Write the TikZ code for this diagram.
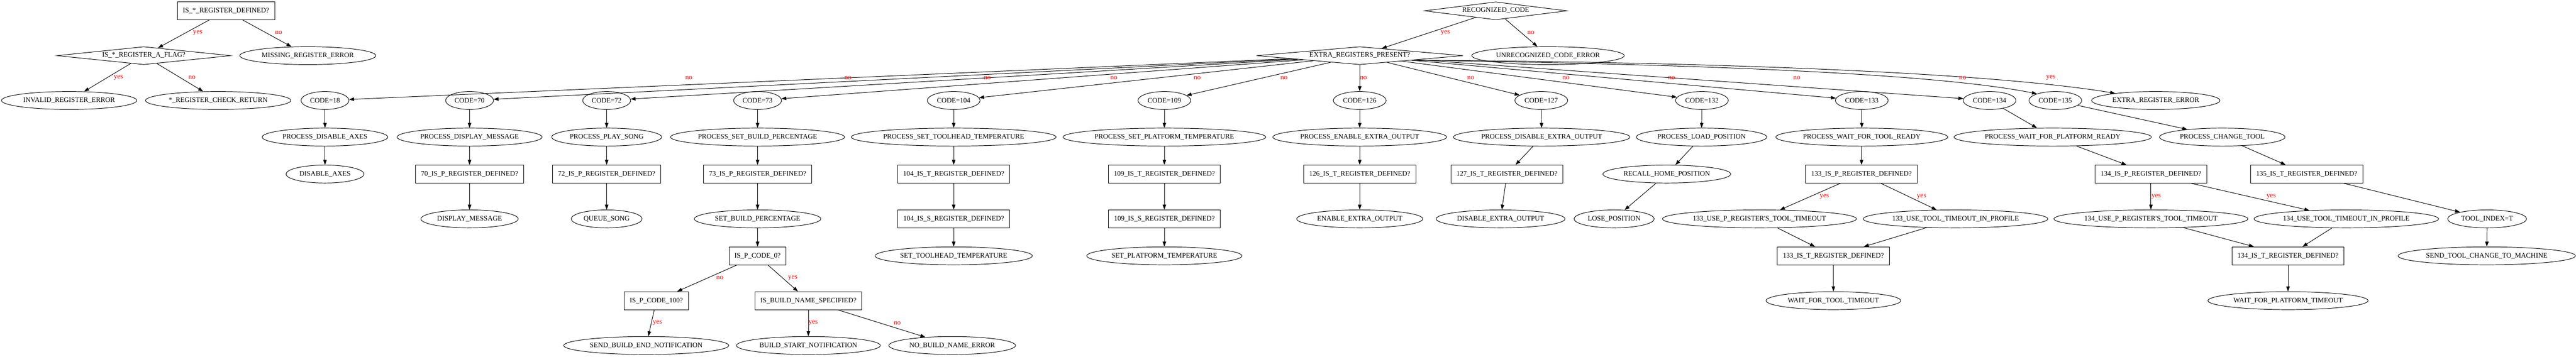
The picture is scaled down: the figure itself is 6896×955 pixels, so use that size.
\documentclass[tikz,border=0pt]{standalone}
\usepackage{fontspec}
\setmainfont{Liberation Serif}
\usetikzlibrary{shapes.geometric,arrows.meta}
\definecolor{labelred}{rgb}{1, 0, 0}

\begin{document}
\begin{tikzpicture}[x=0.75pt, y=0.75pt,
    every node/.style={font=\fontsize{14pt}{16pt}\selectfont},
    ell/.style={draw, ellipse, line width=1pt, minimum height=36pt, inner xsep=4pt, inner ysep=0pt},
    box/.style={draw, rectangle, line width=1pt, minimum height=36pt, inner xsep=11pt, inner ysep=0pt},
    dia/.style={draw, diamond, line width=1pt, aspect=10, inner sep=0pt, minimum height=36pt, text height=1.5ex, text depth=.25ex},
    arr/.style={-{Triangle[length=10pt, width=7pt]}, line width=1pt},
    lbl/.style={text=labelred, inner sep=0pt}]
    \useasboundingbox (0,0) rectangle (6896,-955);

    %% register check tree
    \node[box] (isdef) at (605,-29) {IS\_*\_REGISTER\_DEFINED?};
    \node[dia, minimum width=350pt] (isflag) at (385,-149) {IS\_*\_REGISTER\_A\_FLAG?};
    \node[ell] (missing) at (824,-149) {MISSING\_REGISTER\_ERROR};
    \node[ell] (invalid) at (185,-269) {INVALID\_REGISTER\_ERROR};
    \node[ell] (chkret) at (584,-269) {*\_REGISTER\_CHECK\_RETURN};
    \draw[arr] (isdef) -- (isflag);
    \draw[arr] (isdef) -- (missing);
    \draw[arr] (isflag) -- (invalid);
    \draw[arr] (isflag) -- (chkret);
    \node[lbl] (ydef) at (529,-88) {yes};
    \node[lbl] (ndef) at (746,-88) {no};
    \node[lbl] (yflag) at (317,-208) {yes};
    \node[lbl] (nflag) at (514,-208) {no};

    %% code dispatch
    \node[dia, minimum width=286.5pt] (reccode) at (4004,-29) {RECOGNIZED\_CODE};
    \node[dia, minimum width=415pt] (extra) at (3640,-149) {EXTRA\_REGISTERS\_PRESENT?};
    \node[ell] (unrec) at (4144,-149) {UNRECOGNIZED\_CODE\_ERROR};
    \node[ell] (extraerr) at (5771,-269) {EXTRA\_REGISTER\_ERROR};
    \draw[arr] (reccode) -- (extra);
    \draw[arr] (reccode) -- (unrec);
    \node[lbl] (yrec) at (3869,-88) {yes};
    \node[lbl] (nrec) at (4098,-88) {no};

    \foreach \c/\x in {18/870, 70/1257, 72/1624, 73/2028, 104/2553, 109/3117, 126/3640,
                       127/4126, 132/4556, 133/4984, 134/5326, 135/5502} {
        \node[ell] (c\c) at (\x,-269) {CODE=\c};
    }
    \foreach \c in {18,70,72,73,104,109,126,127,132,133,134} {
        \draw[arr] (extra) -- (c\c);
    }
    \draw[arr] (extra.-5) .. controls (4400,-170) and (5150,-190) .. (c135.160);
    \draw[arr] (extra.-5) .. controls (4500,-165) and (5300,-190) .. (extraerr.170);
    \foreach \x in {1844,2270,2643,2982,3205,3437,3650,3937,4192,4475,4810,5254} {
        \node[lbl] (no\x) at (\x,-209) {no};
    }
    \node[lbl] (yextra) at (5490,-208) {yes};

    %% one process node per code
    \foreach \c/\x/\t in {18/870/DISABLE\_AXES, 70/1257/DISPLAY\_MESSAGE, 72/1624/PLAY\_SONG,
                          73/2028/SET\_BUILD\_PERCENTAGE, 104/2553/SET\_TOOLHEAD\_TEMPERATURE,
                          109/3117/SET\_PLATFORM\_TEMPERATURE, 126/3640/ENABLE\_EXTRA\_OUTPUT,
                          127/4127/DISABLE\_EXTRA\_OUTPUT, 132/4555/LOAD\_POSITION,
                          133/4984/WAIT\_FOR\_TOOL\_READY, 134/5495/WAIT\_FOR\_PLATFORM\_READY,
                          135/5949/CHANGE\_TOOL} {
        \node[ell] (p\c) at (\x,-367) {PROCESS\_\t};
        \draw[arr] (c\c) -- (p\c);
    }

    %% row 5
    \node[ell] (disaxes) at (870,-466) {DISABLE\_AXES};
    \node[box] (p70def) at (1257,-466) {70\_IS\_P\_REGISTER\_DEFINED?};
    \node[box] (p72def) at (1624,-466) {72\_IS\_P\_REGISTER\_DEFINED?};
    \node[box] (p73def) at (2028,-466) {73\_IS\_P\_REGISTER\_DEFINED?};
    \node[box] (t104def) at (2553,-466) {104\_IS\_T\_REGISTER\_DEFINED?};
    \node[box] (t109def) at (3117,-466) {109\_IS\_T\_REGISTER\_DEFINED?};
    \node[box] (t126def) at (3640,-466) {126\_IS\_T\_REGISTER\_DEFINED?};
    \node[box] (t127def) at (4034,-466) {127\_IS\_T\_REGISTER\_DEFINED?};
    \node[ell] (recall) at (4462,-466) {RECALL\_HOME\_POSITION};
    \node[box] (p133def) at (4983,-466) {133\_IS\_P\_REGISTER\_DEFINED?};
    \node[box] (p134def) at (5758,-466) {134\_IS\_P\_REGISTER\_DEFINED?};
    \node[box] (t135def) at (6175,-466) {135\_IS\_T\_REGISTER\_DEFINED?};
    \draw[arr] (p18) -- (disaxes);
    \draw[arr] (p70) -- (p70def);
    \draw[arr] (p72) -- (p72def);
    \draw[arr] (p73) -- (p73def);
    \draw[arr] (p104) -- (t104def);
    \draw[arr] (p109) -- (t109def);
    \draw[arr] (p126) -- (t126def);
    \draw[arr] (p127) -- (t127def);
    \draw[arr] (p132) -- (recall);
    \draw[arr] (p133) -- (p133def);
    \draw[arr] (p134) -- (p134def);
    \draw[arr] (p135) -- (t135def);

    %% row 6
    \node[ell] (dispmsg) at (1257,-586) {DISPLAY\_MESSAGE};
    \node[ell] (queue) at (1624,-586) {QUEUE\_SONG};
    \node[ell] (setbuild) at (2028,-586) {SET\_BUILD\_PERCENTAGE};
    \node[box] (s104def) at (2553,-586) {104\_IS\_S\_REGISTER\_DEFINED?};
    \node[box] (s109def) at (3117,-586) {109\_IS\_S\_REGISTER\_DEFINED?};
    \node[ell] (enable) at (3640,-586) {ENABLE\_EXTRA\_OUTPUT};
    \node[ell] (disable) at (4017,-586) {DISABLE\_EXTRA\_OUTPUT};
    \node[ell] (lose) at (4321,-586) {LOSE\_POSITION};
    \node[ell] (usep133) at (4710,-586) {133\_USE\_P\_REGISTER\textquotesingle S\_TOOL\_TIMEOUT};
    \node[ell] (uset133) at (5235,-586) {133\_USE\_TOOL\_TIMEOUT\_IN\_PROFILE};
    \node[ell] (usep134) at (5758,-586) {134\_USE\_P\_REGISTER\textquotesingle S\_TOOL\_TIMEOUT};
    \node[ell] (uset134) at (6281,-586) {134\_USE\_TOOL\_TIMEOUT\_IN\_PROFILE};
    \node[ell] (toolidx) at (6658,-586) {TOOL\_INDEX=T};
    \draw[arr] (p70def) -- (dispmsg);
    \draw[arr] (p72def) -- (queue);
    \draw[arr] (p73def) -- (setbuild);
    \draw[arr] (t104def) -- (s104def);
    \draw[arr] (t109def) -- (s109def);
    \draw[arr] (t126def) -- (enable);
    \draw[arr] (t127def) -- (disable);
    \draw[arr] (recall) -- (lose);
    \draw[arr] (p133def) -- (usep133);
    \draw[arr] (p133def) -- (uset133);
    \draw[arr] (p134def) -- (usep134);
    \draw[arr] (p134def) -- (uset134);
    \draw[arr] (t135def) -- (toolidx);
    \node[lbl] (y133a) at (4884,-527) {yes};
    \node[lbl] (y133b) at (5144,-527) {yes};
    \node[lbl] (y134a) at (5772,-527) {yes};
    \node[lbl] (y134b) at (6080,-527) {yes};

    %% row 7
    \node[box] (pcode0) at (2028,-685) {IS\_P\_CODE\_0?};
    \node[ell] (settool) at (2553,-685) {SET\_TOOLHEAD\_TEMPERATURE};
    \node[ell] (setplat) at (3117,-685) {SET\_PLATFORM\_TEMPERATURE};
    \node[box] (t133def) at (4908,-685) {133\_IS\_T\_REGISTER\_DEFINED?};
    \node[box] (t134def) at (6125,-685) {134\_IS\_T\_REGISTER\_DEFINED?};
    \node[ell] (sendtool) at (6657,-685) {SEND\_TOOL\_CHANGE\_TO\_MACHINE};
    \draw[arr] (setbuild) -- (pcode0);
    \draw[arr] (s104def) -- (settool);
    \draw[arr] (s109def) -- (setplat);
    \draw[arr] (usep133) -- (t133def);
    \draw[arr] (uset133) -- (t133def);
    \draw[arr] (usep134) -- (t134def);
    \draw[arr] (uset134) -- (t134def);
    \draw[arr] (toolidx) -- (sendtool);

    %% row 8
    \node[box] (pcode100) at (1757,-805) {IS\_P\_CODE\_100?};
    \node[box] (namespec) at (2164,-805) {IS\_BUILD\_NAME\_SPECIFIED?};
    \node[ell] (waittool) at (4908,-805) {WAIT\_FOR\_TOOL\_TIMEOUT};
    \node[ell] (waitplat) at (6125,-805) {WAIT\_FOR\_PLATFORM\_TIMEOUT};
    \draw[arr] (pcode0) -- (pcode100);
    \draw[arr] (pcode0) -- (namespec);
    \draw[arr] (t133def) -- (waittool);
    \draw[arr] (t134def) -- (waitplat);
    \node[lbl] (npcode0) at (1927,-744) {no};
    \node[lbl] (ypcode0) at (2122,-744) {yes};

    %% row 9
    \node[ell] (buildend) at (1730,-925) {SEND\_BUILD\_END\_NOTIFICATION};
    \node[ell] (buildstart) at (2164,-925) {BUILD\_START\_NOTIFICATION};
    \node[ell] (nonameerr) at (2549,-925) {NO\_BUILD\_NAME\_ERROR};
    \draw[arr] (pcode100) -- (buildend);
    \draw[arr] (namespec) -- (buildstart);
    \draw[arr] (namespec) -- (nonameerr);
    \node[lbl] (ypcode100) at (1760,-865) {yes};
    \node[lbl] (yname) at (2177,-865) {yes};
    \node[lbl] (nname) at (2402,-865) {no};
\end{tikzpicture}
\end{document}
